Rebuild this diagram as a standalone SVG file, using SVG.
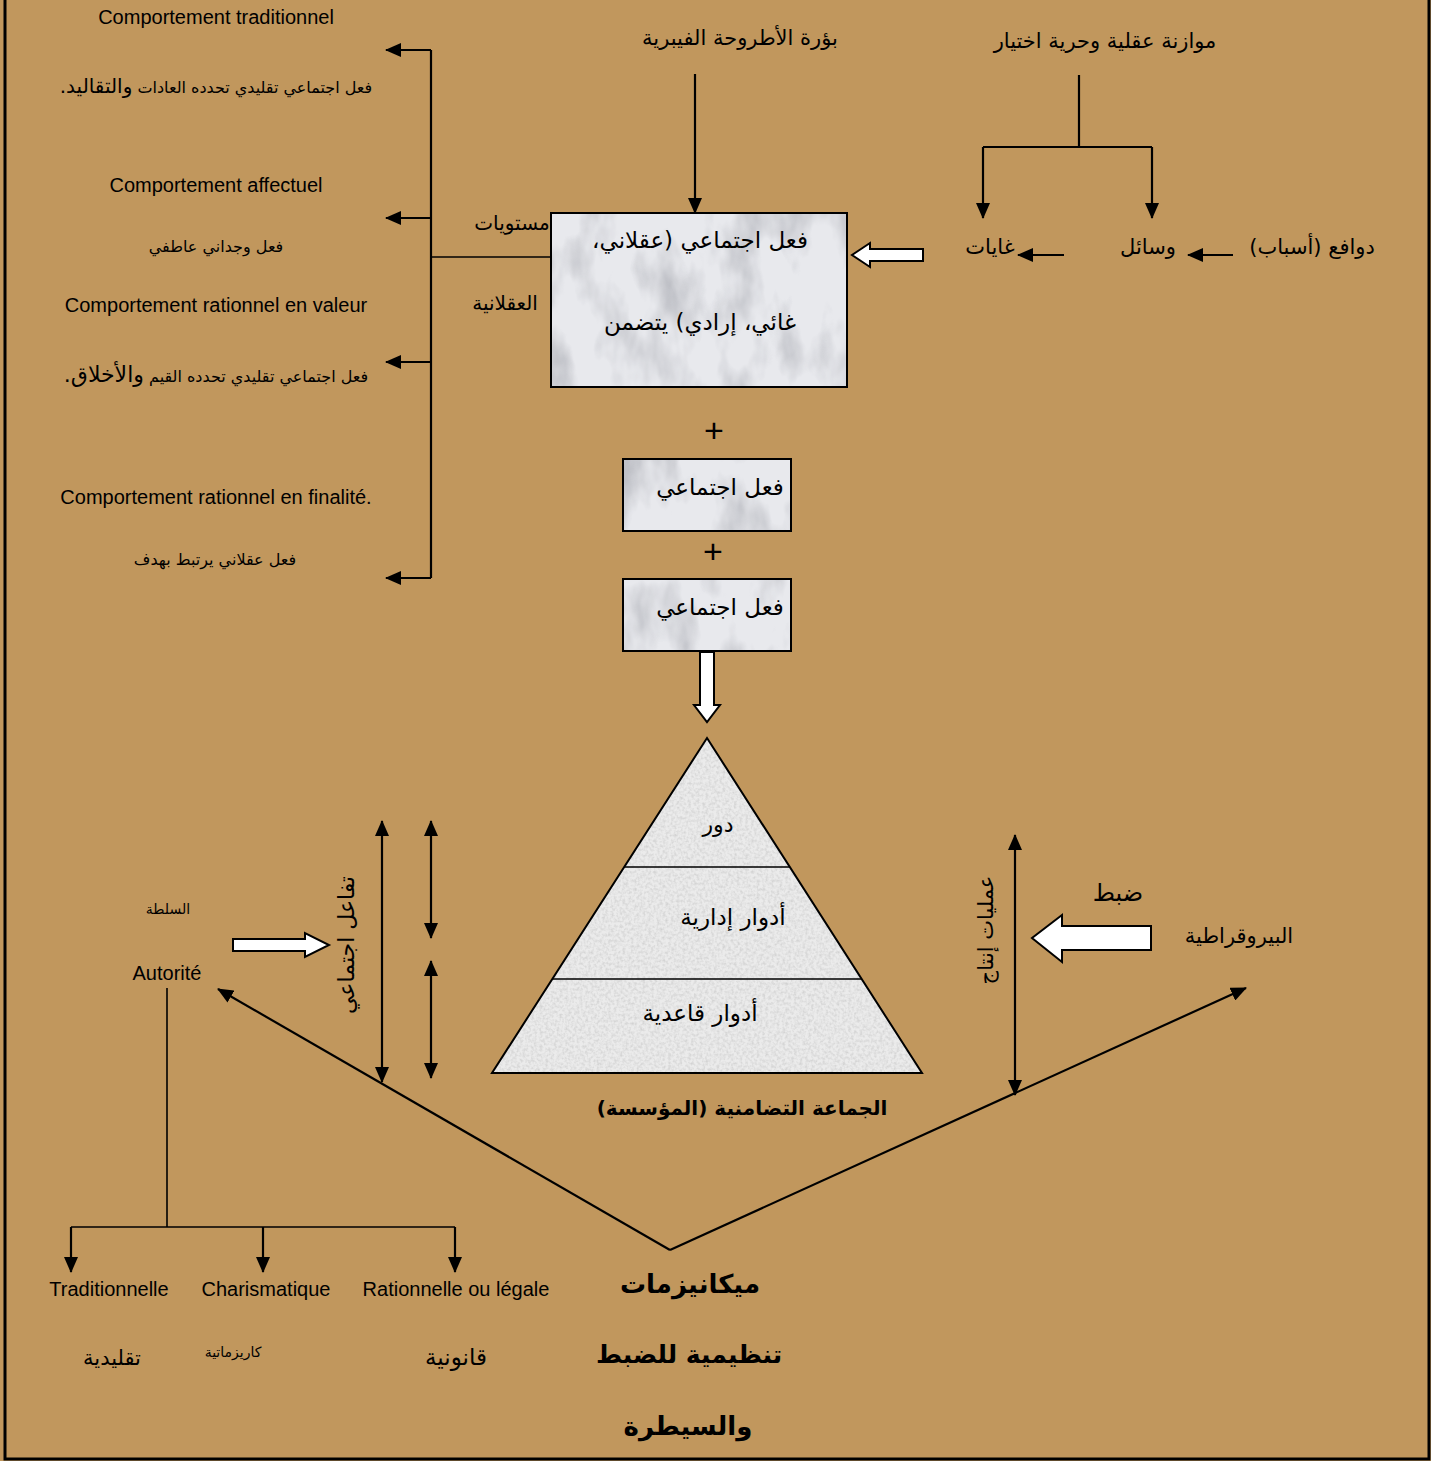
<svg xmlns="http://www.w3.org/2000/svg" width="1431" height="1461" viewBox="0 0 1431 1461">
<style>
.fr{font-family:"Liberation Sans",Arial,sans-serif;font-size:20px;fill:#000;text-anchor:middle}
.plus{font-family:"Liberation Sans",Arial,sans-serif;font-size:34px;fill:#000;text-anchor:middle}
.ar{font-family:"DejaVu Sans",sans-serif;fill:#000;text-anchor:middle;direction:rtl}
.arb{font-family:"DejaVu Sans",sans-serif;fill:#000;text-anchor:middle;direction:rtl;font-weight:bold}
.ln{stroke:#000;stroke-width:2.2;fill:none}
.thin{stroke:#000;stroke-width:1.6;fill:none}
.outl{stroke:#000;stroke-width:2;fill:none}
.wa{fill:#fff;stroke:#000;stroke-width:2;stroke-linejoin:miter}
</style>
<defs>
<marker id="ah" viewBox="0 0 16 14" refX="15" refY="7" markerWidth="16" markerHeight="14" orient="auto-start-reverse" markerUnits="userSpaceOnUse"><path d="M0,0 L16,7 L0,14 z" fill="#000"/></marker>
<filter id="marble" x="0" y="0" width="1" height="1">
<feTurbulence type="fractalNoise" baseFrequency="0.025 0.012" numOctaves="4" seed="7" result="n"/>
<feColorMatrix in="n" type="matrix" values="0 0 0 0 0.45 0 0 0 0 0.46 0 0 0 0 0.5 2.2 0 0 0 -1.0" result="g"/>
<feComposite in="g" in2="SourceGraphic" operator="in" result="gc"/>
<feMerge><feMergeNode in="SourceGraphic"/><feMergeNode in="gc"/></feMerge>
</filter>
<filter id="granite" x="0" y="0" width="1" height="1">
<feTurbulence type="fractalNoise" baseFrequency="0.35" numOctaves="2" seed="3" result="n"/>
<feColorMatrix in="n" type="matrix" values="0 0 0 0 0.6 0 0 0 0 0.6 0 0 0 0 0.6 1.6 0 0 0 -0.6" result="g"/>
<feComposite in="g" in2="SourceGraphic" operator="in" result="gc"/>
<feMerge><feMergeNode in="SourceGraphic"/><feMergeNode in="gc"/></feMerge>
</filter>
</defs>
<rect x="0" y="0" width="1431" height="1461" fill="#C1975D"/>
<rect x="5" y="-5" width="1424" height="1464" fill="none" stroke="#000" stroke-width="3"/>

<g id="connectors">
<path class="ln" d="M431,50 V578"/>
<path class="ln" d="M431,50 H386" marker-end="url(#ah)"/>
<path class="ln" d="M431,218 H386" marker-end="url(#ah)"/>
<path class="ln" d="M431,362 H386" marker-end="url(#ah)"/>
<path class="ln" d="M431,578 H386" marker-end="url(#ah)"/>
<path class="thin" d="M431,257 H551"/>
<path class="ln" d="M695,74 V213" marker-end="url(#ah)"/>
<path class="ln" d="M1079,75 V147 M983,147 H1152"/>
<path class="ln" d="M983,147 V218" marker-end="url(#ah)"/>
<path class="ln" d="M1152,147 V218" marker-end="url(#ah)"/>
<path class="ln" d="M1233,255 H1188" marker-end="url(#ah)"/>
<path class="ln" d="M1064,255 H1018" marker-end="url(#ah)"/>
<path class="wa" d="M923,249 H870 V243 L852,255 L870,267 V261 H923 Z"/>
<path class="wa" d="M700,652 V705 H694 L707,722 L720,705 H714 V652 Z"/>
<path class="ln" d="M382,821 V1082" marker-start="url(#ah)" marker-end="url(#ah)"/>
<path class="ln" d="M431,821 V938" marker-start="url(#ah)" marker-end="url(#ah)"/>
<path class="ln" d="M431,961 V1078" marker-start="url(#ah)" marker-end="url(#ah)"/>
<path class="wa" d="M233,939 H305 V933 L329,945 L305,957 V951 H233 Z"/>
<path class="ln" d="M670,1250 L218,989" marker-end="url(#ah)"/>
<path class="ln" d="M670,1250 L1246,988" marker-end="url(#ah)"/>
<path class="ln" d="M1015,835 V1095" marker-start="url(#ah)" marker-end="url(#ah)"/>
<path class="wa" d="M1151,926 H1062 V915 L1032,938 L1062,962 V950 H1151 Z"/>
<path class="thin" d="M167,988 V1227 M71,1227 H455"/>
<path class="ln" d="M71,1227 V1272" marker-end="url(#ah)"/>
<path class="ln" d="M263,1227 V1272" marker-end="url(#ah)"/>
<path class="ln" d="M455,1227 V1272" marker-end="url(#ah)"/>
</g>

<g id="left-types">
<text class="fr" x="216" y="24">Comportement traditionnel</text>
<text class="ar" x="216" y="93" font-size="16">فعل اجتماعي تقليدي تحدده العادات <tspan font-size="20">والتقاليد.</tspan></text>
<text class="fr" x="216" y="192">Comportement affectuel</text>
<text class="ar" x="216" y="252" font-size="16">فعل وجداني عاطفي</text>
<text class="fr" x="216" y="312">Comportement rationnel en valeur</text>
<text class="ar" x="216" y="382" font-size="16">فعل اجتماعي تقليدي تحدده القيم <tspan font-size="22">والأخلاق.</tspan></text>
<text class="fr" x="216" y="504">Comportement rationnel en finalité.</text>
<text class="ar" x="215" y="565" font-size="16">فعل عقلاني يرتبط بهدف</text>
</g>

<g id="levels-label">
<text class="ar" x="512" y="230" font-size="20">مستويات</text>
<text class="ar" x="505" y="310" font-size="20">العقلانية</text>
</g>

<g id="weber-focus">
<text class="ar" x="740" y="45" font-size="21">بؤرة الأطروحة الفيبرية</text>
</g>

<g id="main-box">
<rect x="551" y="213" width="296" height="174" fill="#e8e9ed" filter="url(#marble)"/>
<rect class="outl" x="551" y="213" width="296" height="174"/>
<text class="ar" x="700" y="248" font-size="23">فعل اجتماعي (عقلاني،</text>
<text class="ar" x="700" y="330" font-size="23">غائي، إرادي) يتضمن</text>
</g>

<g id="balance">
<text class="ar" x="1105" y="48" font-size="21">موازنة عقلية وحرية اختيار</text>
</g>
<g id="ends"><text class="ar" x="990" y="254" font-size="21">غايات</text></g>
<g id="means"><text class="ar" x="1148" y="254" font-size="21">وسائل</text></g>
<g id="motives"><text class="ar" x="1312" y="254" font-size="21">دوافع (أسباب)</text></g>

<g id="plus1"><text class="plus" x="714" y="442">+</text></g>
<g id="box2">
<rect x="623" y="459" width="168" height="72" fill="#e8e9ed" filter="url(#marble)"/>
<rect class="outl" x="623" y="459" width="168" height="72"/>
<text class="ar" x="720" y="495" font-size="23">فعل اجتماعي</text>
</g>
<g id="plus2"><text class="plus" x="713" y="563">+</text></g>
<g id="box3">
<rect x="623" y="579" width="168" height="72" fill="#e8e9ed" filter="url(#marble)"/>
<rect class="outl" x="623" y="579" width="168" height="72"/>
<text class="ar" x="720" y="615" font-size="23">فعل اجتماعي</text>
</g>

<g id="pyramid">
<path d="M707,738 L922,1073 L492,1073 Z" fill="#ebebeb" filter="url(#granite)"/>
<path class="outl" d="M707,738 L922,1073 L492,1073 Z"/>
<path class="thin" d="M624,867 H790 M552,979 H862"/>
<text class="ar" x="718" y="832" font-size="22">دور</text>
<text class="ar" x="733" y="925" font-size="23">أدوار إدارية</text>
<text class="ar" x="700" y="1021" font-size="23">أدوار قاعدية</text>
<text class="arb" x="742" y="1115" font-size="20">الجماعة التضامنية (المؤسسة)</text>
</g>

<g id="social-interaction">
<text class="ar" transform="translate(346,945) rotate(-90)" x="0" y="8" font-size="22">تفاعل اجتماعي</text>
</g>

<g id="authority">
<text class="ar" x="168" y="914" font-size="14">السلطة</text>
<text class="fr" x="167" y="980">Autorité</text>
</g>
<g id="traditional">
<text class="fr" x="109" y="1296">Traditionnelle</text>
<text class="ar" x="112" y="1365" font-size="21">تقليدية</text>
</g>
<g id="charismatic">
<text class="fr" x="266" y="1296">Charismatique</text>
<text class="ar" x="233" y="1357" font-size="14">كاريزماتية</text>
</g>
<g id="legal">
<text class="fr" x="456" y="1296">Rationnelle ou légale</text>
<text class="ar" x="456" y="1365" font-size="23">قانونية</text>
</g>

<g id="production">
<text class="ar" transform="translate(985,930) rotate(-90)" x="0" y="8" font-size="21">عمليات إنتاج</text>
</g>
<g id="bureaucracy">
<text class="ar" x="1118" y="901" font-size="24">ضبط</text>
<text class="ar" x="1239" y="943" font-size="21">البيروقراطية</text>
</g>

<g id="mechanisms">
<text class="arb" x="690" y="1293" font-size="26">ميكانيزمات</text>
<text class="arb" x="689" y="1363" font-size="25">تنظيمية للضبط</text>
<text class="arb" x="688" y="1435" font-size="26">والسيطرة</text>
</g>
</svg>
